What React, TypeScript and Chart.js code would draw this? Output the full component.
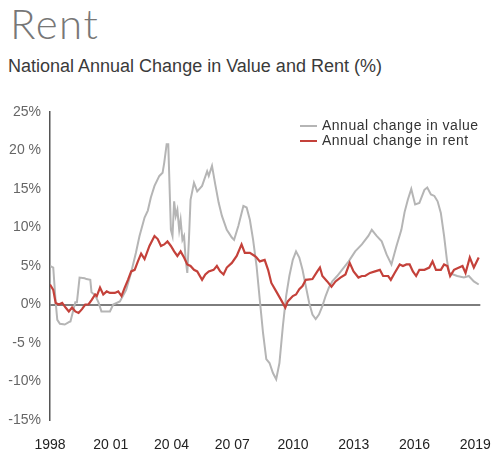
import React, { useEffect, useRef } from "react";
import { Chart, registerables } from "chart.js";

Chart.register(...registerables);

// ---- Data ----
const valueYears = [
  1998.0, 1998.16, 1998.28, 1998.36, 1998.49, 1998.73, 1998.93, 1999.01, 1999.25, 1999.33,
  1999.46, 1999.71, 1999.8, 1999.99, 2000.05, 2000.23, 2000.39, 2000.54, 2000.96, 2001.12,
  2001.45, 2001.76, 2002.0, 2002.24, 2002.42, 2002.67, 2002.83, 2002.98, 2003.16, 2003.4,
  2003.56, 2003.64, 2003.76, 2003.84, 2003.97, 2004.05, 2004.13, 2004.21, 2004.29, 2004.38,
  2004.45, 2004.54, 2004.62, 2004.7, 2004.78, 2004.86, 2004.94, 2005.11, 2005.27, 2005.51,
  2005.76, 2005.84, 2006.0, 2006.16, 2006.33, 2006.49, 2006.73, 2006.98, 2007.09, 2007.3,
  2007.55, 2007.71, 2007.87, 2008.03, 2008.2, 2008.36, 2008.52, 2008.68, 2008.84, 2009.01,
  2009.17, 2009.33, 2009.5, 2009.66, 2009.82, 2009.99, 2010.15, 2010.31, 2010.47, 2010.63,
  2010.8, 2010.96, 2011.12, 2011.28, 2011.45, 2011.61, 2011.77, 2011.94, 2012.18, 2012.42,
  2012.75, 2013.07, 2013.4, 2013.72, 2013.89, 2014.13, 2014.38, 2014.62, 2014.86, 2015.11,
  2015.35, 2015.51, 2015.67, 2015.84, 2016.03, 2016.24, 2016.49, 2016.63, 2016.81, 2016.98,
  2017.14, 2017.3, 2017.46, 2017.6, 2017.71, 2018.11, 2018.44, 2018.68, 2018.93, 2019.17,
];
const valueChange = [
  5.0, 4.8, 0.3, -2.0, -2.5, -2.6, -2.3, -2.2, 0.3, 0.3,
  3.5, 3.4, 3.3, 3.2, 1.6, 1.2, 0.3, -0.9, -0.9, 0.0,
  0.4, 1.9, 4.1, 6.7, 8.9, 11.3, 12.2, 13.9, 15.4, 16.7,
  17.1, 18.4, 20.8, 20.8, 9.7, 8.9, 13.4, 11.5, 12.3, 9.7,
  11.0, 8.4, 8.9, 5.8, 4.1, 8.4, 13.6, 15.8, 14.7, 15.4,
  17.3, 16.7, 18.0, 15.6, 13.2, 11.5, 9.7, 8.7, 8.4, 10.2,
  12.8, 12.6, 11.0, 8.4, 5.0, 0.6, -3.7, -7.1, -7.6, -8.9,
  -9.7, -7.6, -2.8, 1.1, 3.7, 5.8, 6.9, 6.1, 4.5, 2.4,
  0.2, -1.3, -1.9, -1.3, -0.2, 1.1, 2.2, 3.0, 3.7, 4.5,
  5.6, 6.9, 7.8, 8.9, 9.7, 8.9, 8.2, 6.5, 5.2, 7.6,
  9.7, 12.0, 13.6, 15.0, 13.0, 13.2, 14.9, 15.2, 14.3, 14.1,
  13.4, 11.9, 8.9, 5.8, 4.1, 3.7, 3.5, 3.7, 3.0, 2.6,
];

const rentYears = [
  1998.0, 1998.16, 1998.28, 1998.44, 1998.6, 1998.77, 1998.93, 1999.09, 1999.25, 1999.41,
  1999.58, 1999.74, 1999.9, 2000.06, 2000.23, 2000.31, 2000.47, 2000.63, 2000.8, 2000.96,
  2001.2, 2001.37, 2001.53, 2001.69, 2001.85, 2002.01, 2002.18, 2002.34, 2002.5, 2002.67,
  2002.91, 2003.16, 2003.32, 2003.48, 2003.64, 2003.8, 2003.97, 2004.13, 2004.29, 2004.45,
  2004.62, 2004.78, 2004.94, 2005.11, 2005.27, 2005.51, 2005.67, 2005.84, 2006.08, 2006.24,
  2006.4, 2006.57, 2006.73, 2006.98, 2007.22, 2007.46, 2007.62, 2007.87, 2008.11, 2008.2,
  2008.36, 2008.6, 2008.77, 2008.93, 2009.17, 2009.41, 2009.62, 2009.74, 2009.99, 2010.15,
  2010.31, 2010.47, 2010.63, 2010.96, 2011.2, 2011.33, 2011.45, 2011.69, 2011.9, 2012.1,
  2012.34, 2012.59, 2012.8, 2012.99, 2013.23, 2013.4, 2013.56, 2013.8, 2014.05, 2014.29,
  2014.45, 2014.7, 2014.83, 2015.02, 2015.27, 2015.43, 2015.6, 2015.76, 2015.92, 2016.08,
  2016.24, 2016.49, 2016.73, 2016.89, 2017.06, 2017.3, 2017.46, 2017.62, 2017.76, 2017.95,
  2018.2, 2018.37, 2018.52, 2018.73, 2018.93, 2019.17,
];
const rentChange = [
  2.6, 1.9, 0.2, 0.0, 0.2, -0.4, -0.9, -0.4, -0.9, -1.1,
  -0.6, 0.0, 0.0, 0.6, 1.3, 1.1, 2.2, 1.3, 1.7, 1.5,
  1.5, 1.7, 1.1, 2.2, 3.2, 4.3, 4.5, 5.6, 6.6, 5.9,
  7.6, 8.9, 8.5, 7.6, 7.8, 8.2, 7.6, 6.9, 6.3, 6.9,
  6.1, 5.2, 5.0, 4.5, 4.3, 3.2, 3.9, 4.3, 4.5, 5.0,
  4.3, 3.9, 4.8, 5.4, 6.3, 7.8, 6.7, 6.7, 6.3, 6.1,
  5.6, 5.8, 4.5, 2.8, 1.7, 0.6, -0.4, 0.4, 1.1, 1.3,
  2.0, 2.4, 3.2, 3.3, 4.3, 4.8, 3.7, 3.0, 2.3, 3.0,
  3.5, 3.9, 5.4, 4.3, 3.5, 3.7, 3.7, 4.1, 4.3, 4.5,
  3.7, 3.7, 3.2, 4.1, 5.2, 5.0, 5.2, 5.2, 4.3, 3.7,
  4.5, 4.5, 4.8, 5.6, 4.5, 4.5, 5.2, 5.0, 3.7, 4.5,
  4.8, 5.0, 4.1, 6.1, 4.8, 6.1,
];

const seriesLabels = ["Annual change in value", "Annual change in rent"];
const seriesColors = ["#b5b5b5", "#c4413a"];

const xTickYears = [1998, 2001, 2004, 2007, 2010, 2013, 2016, 2019];
const xTickLabels = ["1998", "20 01", "20 04", "20 07", "2010", "2013", "2016", "2019"];
const yTickValues = [-15, -10, -5, 0, 5, 10, 15, 20, 25];
const yTickLabels = ["-15%", "-10%", "-5 %", "0%", "5%", "10%", "15%", "20 %", "25%"];

const FONT = "'Liberation Sans', Arial, sans-serif";

const legendPlugin = {
  id: "insideLegend",
  afterDraw(chart: any) {
    const ctx = chart.ctx as CanvasRenderingContext2D;
    ctx.save();
    ctx.font = `14px ${FONT}`;
    (ctx as any).letterSpacing = "0.5px";
    ctx.textBaseline = "middle";
    ctx.textAlign = "left";
    chart.data.datasets.forEach((ds: any, i: number) => {
      const y = 126 + i * 15;
      ctx.strokeStyle = ds.borderColor;
      ctx.lineWidth = 2;
      ctx.beginPath();
      ctx.moveTo(300, y);
      ctx.lineTo(317, y);
      ctx.stroke();
      ctx.fillStyle = "#333333";
      ctx.fillText(ds.label, 322, y + 0.5);
    });
    ctx.restore();
  },
};

export default function App() {
  const canvasRef = useRef<HTMLCanvasElement | null>(null);

  useEffect(() => {
    document.body.style.margin = "0";
    const canvas = canvasRef.current;
    if (!canvas) return;
    const chart = new Chart(canvas, {
      type: "line",
      data: {
        datasets: [
          {
            label: seriesLabels[0],
            data: valueYears.map((x, i) => ({ x, y: valueChange[i] })),
            borderColor: seriesColors[0],
            borderWidth: 2,
            pointRadius: 0,
            tension: 0,
            order: 2,
          },
          {
            label: seriesLabels[1],
            data: rentYears.map((x, i) => ({ x, y: rentChange[i] })),
            borderColor: seriesColors[1],
            borderWidth: 2.2,
            pointRadius: 0,
            tension: 0,
            order: 1,
          },
        ],
      },
      options: {
        animation: false,
        responsive: false,
        layout: { padding: { top: 112, right: 14, left: 0, bottom: 0 } },
        plugins: {
          legend: { display: false },
          tooltip: { enabled: false },
          title: { display: false },
        },
        scales: {
          x: {
            type: "linear",
            min: 1998,
            max: 2019.25,
            afterBuildTicks: (s: any) => {
              s.ticks = xTickYears.map((v) => ({ value: v }));
            },
            afterFit: (s: any) => {
              s.height = 36;
            },
            ticks: {
              autoSkip: false,
              maxRotation: 0,
              padding: 9,
              color: "#222222",
              font: { family: FONT, size: 14 },
              callback: (v: any) => {
                const i = xTickYears.indexOf(Number(v));
                return i >= 0 ? xTickLabels[i] : "";
              },
            },
            grid: { display: false },
            border: { display: false },
          },
          y: {
            type: "linear",
            min: -15,
            max: 25,
            afterBuildTicks: (s: any) => {
              s.ticks = yTickValues.map((v) => ({ value: v }));
            },
            afterFit: (s: any) => {
              s.width = 50;
            },
            ticks: {
              padding: 9,
              color: "#666666",
              font: { family: FONT, size: 14 },
              callback: (v: any) => {
                const i = yTickValues.indexOf(Number(v));
                return i >= 0 ? yTickLabels[i] : "";
              },
            },
            grid: {
              drawTicks: false,
              lineWidth: 2,
              color: (c: any) => (c.tick && c.tick.value === 0 ? "#7d7d7d" : "rgba(0,0,0,0)"),
            },
            border: { display: true, color: "#555555", width: 1.5 },
          },
        },
      },
      plugins: [legendPlugin],
    } as any);
    return () => chart.destroy();
  }, []);

  return (
    <div style={{ position: "relative", width: 500, height: 456, background: "#ffffff", overflow: "hidden" }}>
      <div
        style={{
          position: "absolute",
          left: 10,
          top: 2,
          fontFamily: "Lato, 'Liberation Sans', sans-serif",
          fontWeight: 300,
          fontSize: 42,
          lineHeight: "42px",
          letterSpacing: "1.5px",
          color: "#777777",
          whiteSpace: "nowrap",
        }}
      >
        Rent
      </div>
      <div
        style={{
          position: "absolute",
          left: 8,
          top: 57,
          fontFamily: FONT,
          fontSize: 18,
          lineHeight: "18px",
          color: "#3a3a3a",
          whiteSpace: "nowrap",
        }}
      >
        National Annual Change in Value and Rent (%)
      </div>
      <canvas
        ref={canvasRef}
        width={500}
        height={456}
        style={{ position: "absolute", left: 0, top: 0, width: 500, height: 456, display: "block" }}
      />
    </div>
  );
}
